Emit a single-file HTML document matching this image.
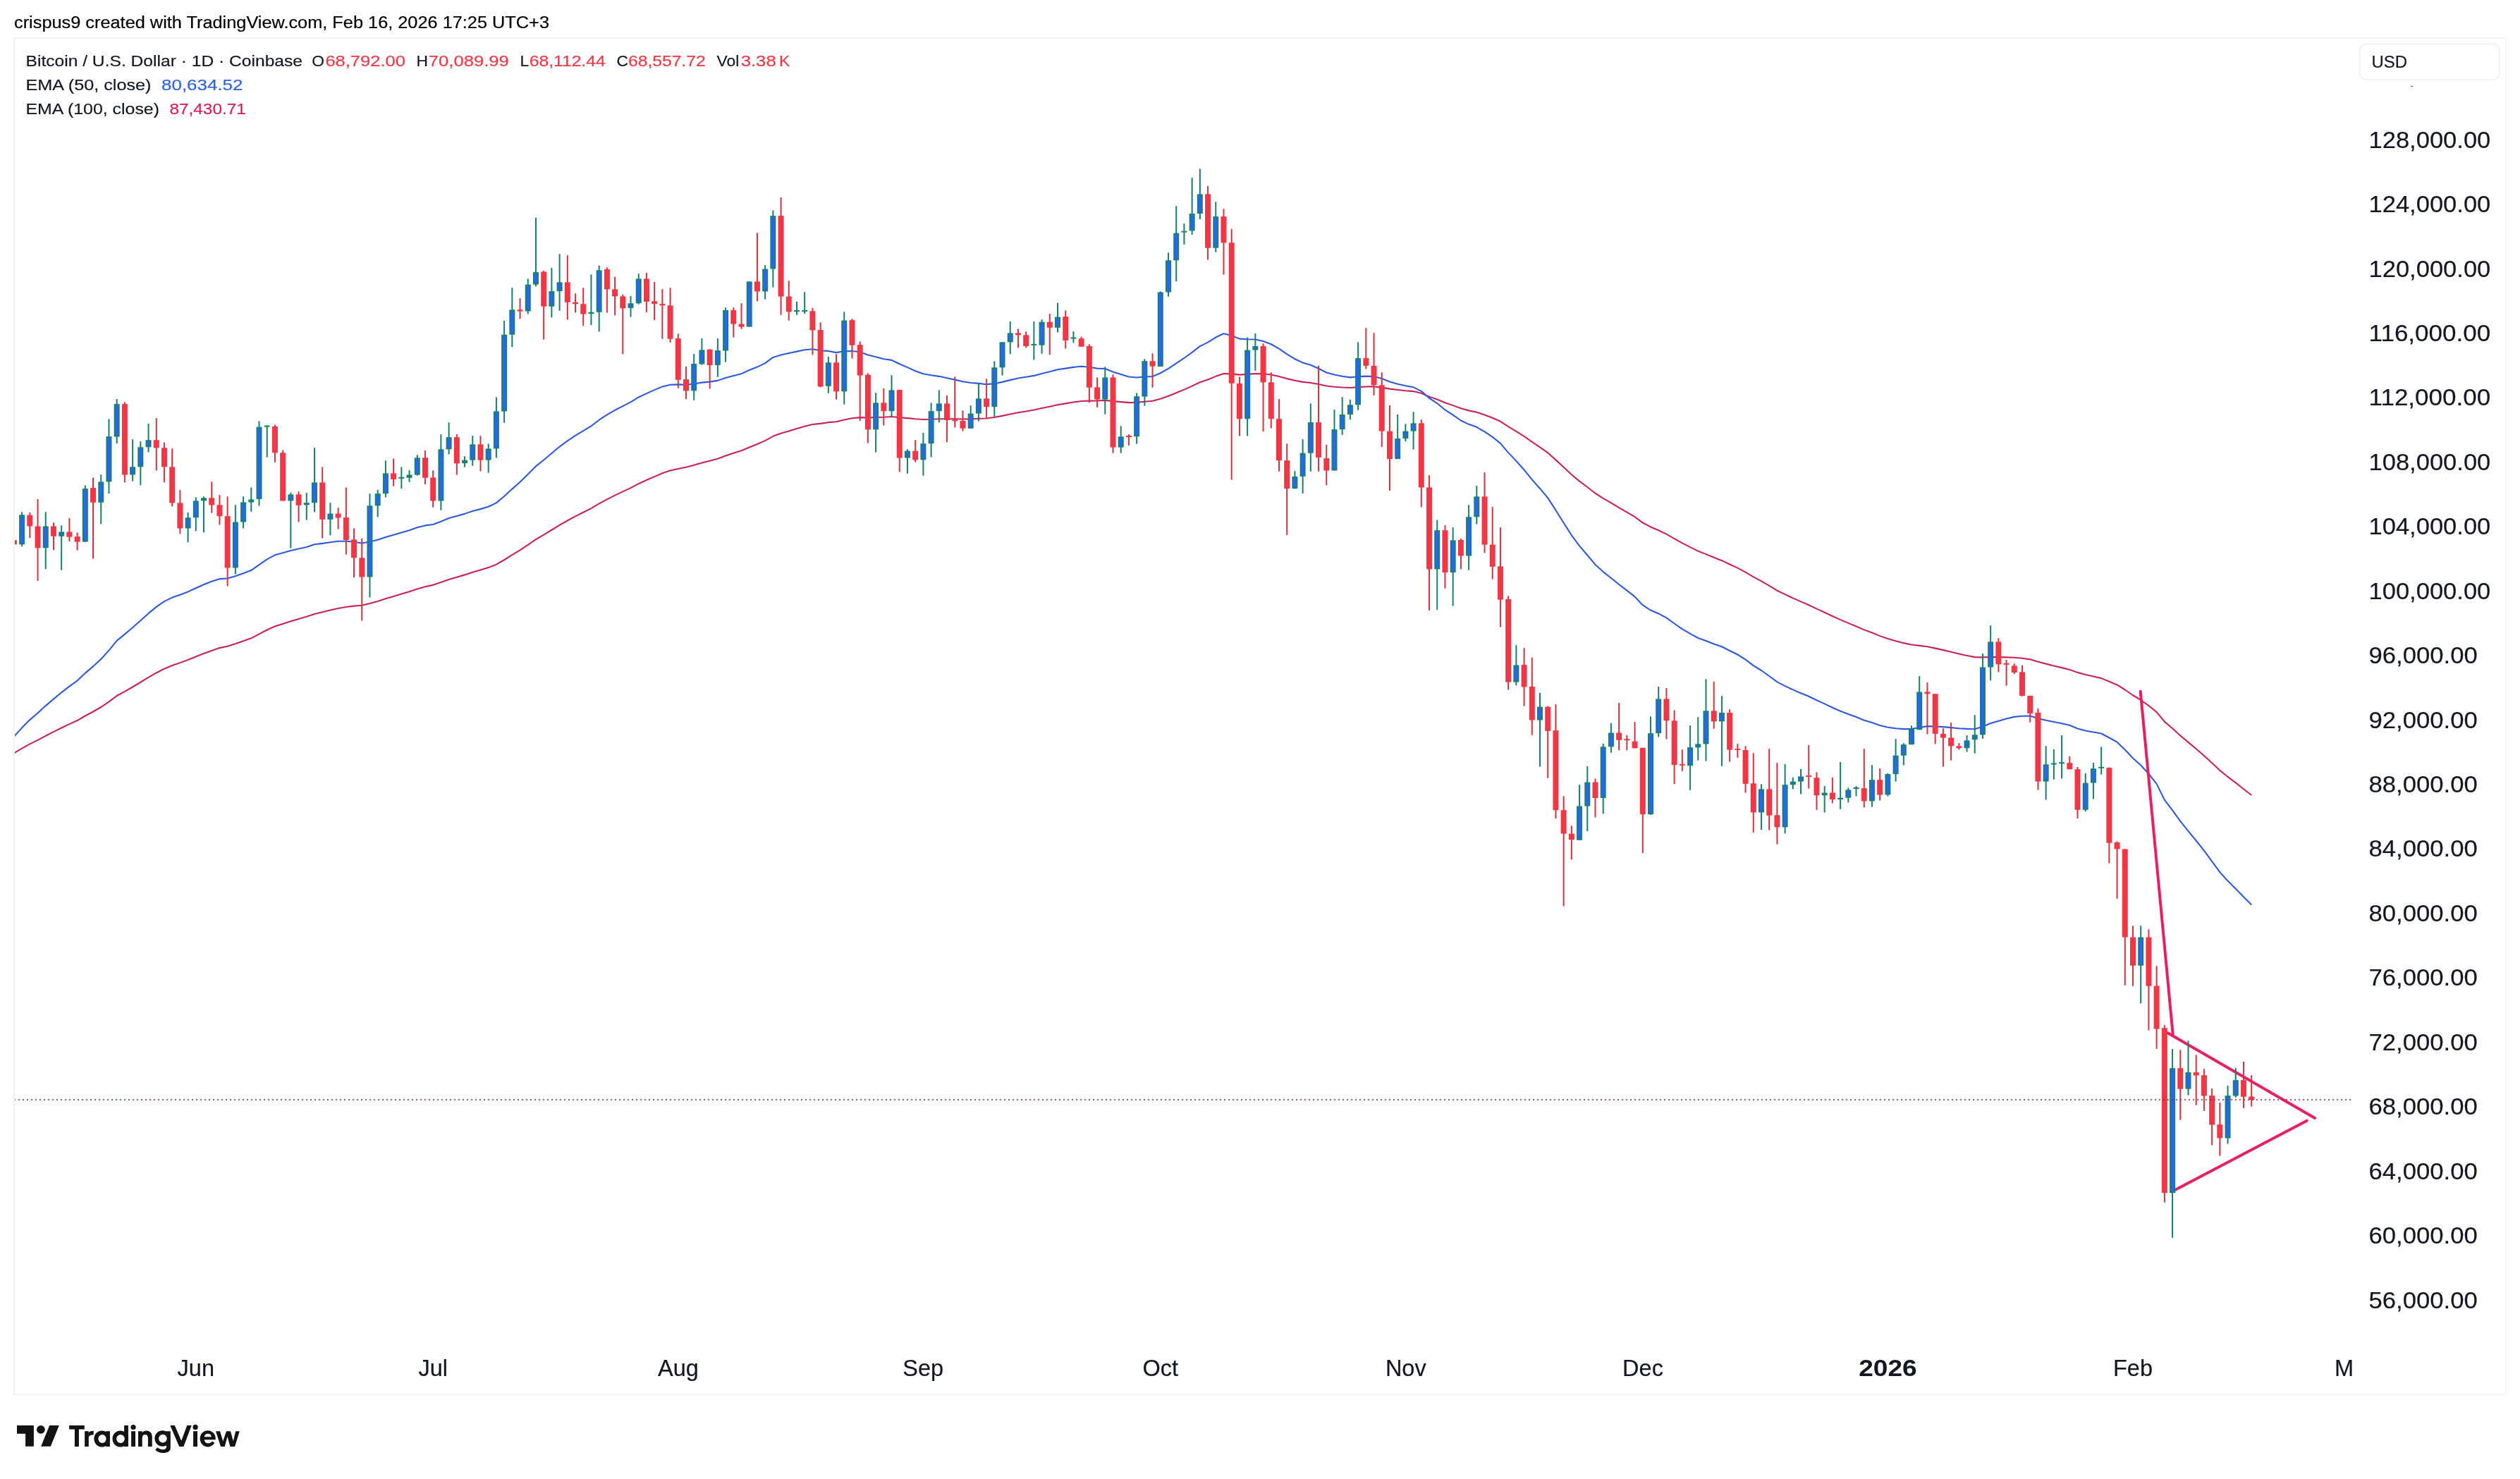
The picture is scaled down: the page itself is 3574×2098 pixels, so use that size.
<!DOCTYPE html>
<html><head><meta charset="utf-8"><title>BTCUSD Chart</title>
<style>html,body{margin:0;padding:0;background:#fff;width:3574px;height:2098px;overflow:hidden}</style>
</head><body>
<svg width="3574" height="2098" viewBox="0 0 3574 2098" style="position:absolute;left:0;top:0;font-family:'Liberation Sans', sans-serif;will-change:transform">
<defs><clipPath id="plotclip"><rect x="21" y="55" width="3317" height="1922"/></clipPath></defs>
<rect x="20" y="54" width="3534" height="1924" fill="none" stroke="#F3F3F3" stroke-width="2"/>
<g clip-path="url(#plotclip)">
<polyline points="19.90,1068.30 31.11,1061.59 42.33,1055.34 53.54,1049.82 64.75,1043.80 75.97,1038.18 87.18,1032.55 98.39,1027.17 109.61,1022.04 120.82,1015.51 132.03,1009.50 143.24,1003.03 154.46,995.41 165.67,987.04 176.88,980.81 188.10,974.49 199.31,967.74 210.52,960.93 221.74,954.46 232.95,948.66 244.16,943.99 255.37,940.13 266.59,936.04 277.80,931.55 289.01,927.08 300.23,922.90 311.44,919.11 322.65,916.84 333.87,913.34 345.08,909.35 356.29,905.36 367.50,899.41 378.72,893.54 389.93,888.55 401.14,885.01 412.36,881.36 423.57,878.09 434.78,874.81 446.00,871.02 457.21,868.35 468.42,865.57 479.63,862.96 490.85,861.03 502.06,859.64 513.27,858.81 524.49,855.99 535.70,852.89 546.91,849.28 558.12,845.92 569.34,842.56 580.55,839.20 591.76,835.43 602.98,832.29 614.19,829.86 625.40,826.04 636.62,821.95 647.83,818.68 659.04,815.38 670.25,811.70 681.47,808.53 692.68,805.11 703.89,800.71 715.11,794.24 726.32,787.20 737.53,780.34 748.75,772.86 759.96,765.19 771.17,758.63 782.38,751.77 793.60,744.80 804.81,738.53 816.02,732.43 827.24,726.74 838.45,721.10 849.66,714.40 860.88,708.36 872.09,702.65 883.30,697.38 894.51,692.08 905.73,686.19 916.94,681.06 928.15,676.10 939.37,671.27 950.58,667.49 961.79,664.93 973.01,662.72 984.22,659.80 995.43,656.55 1006.64,653.80 1017.86,650.68 1029.07,646.49 1040.28,642.78 1051.50,639.22 1062.71,634.45 1073.92,630.06 1085.14,625.13 1096.35,618.80 1107.56,614.86 1118.77,611.43 1129.99,608.02 1141.20,604.69 1152.41,601.98 1163.63,600.90 1174.84,599.17 1186.05,598.29 1197.27,595.43 1208.48,593.32 1219.69,592.11 1230.90,592.43 1242.12,592.00 1253.33,591.81 1264.54,591.04 1275.76,592.18 1286.97,593.11 1298.18,594.27 1309.40,594.95 1320.61,594.70 1331.82,594.25 1343.03,594.27 1354.25,594.31 1365.46,594.56 1376.67,594.39 1387.89,593.80 1399.10,593.46 1410.31,592.01 1421.53,589.89 1432.74,587.55 1443.95,585.31 1455.16,583.43 1466.38,581.53 1477.59,579.04 1488.80,576.77 1500.02,574.23 1511.23,572.41 1522.44,570.55 1533.66,568.97 1544.87,568.58 1556.08,568.52 1567.29,567.85 1578.51,569.16 1589.72,570.14 1600.93,571.10 1612.15,570.91 1623.36,569.73 1634.57,568.73 1645.79,565.66 1657.00,561.76 1668.21,557.16 1679.42,552.61 1690.64,547.65 1701.85,542.25 1713.06,538.46 1724.28,533.87 1735.49,530.10 1746.70,530.36 1757.92,531.61 1769.13,530.90 1780.34,530.10 1791.55,530.33 1802.77,531.58 1813.98,533.97 1825.19,537.11 1836.41,539.84 1847.62,541.86 1858.83,542.98 1870.05,545.07 1881.26,547.48 1892.47,548.68 1903.68,549.45 1914.90,549.93 1926.11,549.08 1937.32,548.47 1948.54,548.42 1959.75,549.65 1970.96,551.65 1982.18,553.03 1993.39,554.18 2004.60,555.08 2015.81,557.76 2027.03,562.69 2038.24,566.43 2049.45,571.28 2060.67,575.13 2071.88,579.34 2083.09,582.38 2094.31,584.78 2105.52,588.49 2116.73,592.74 2127.94,597.83 2139.16,605.14 2150.37,611.83 2161.58,618.99 2172.80,626.95 2184.01,634.38 2195.22,642.33 2206.44,652.36 2217.65,662.84 2228.86,673.29 2240.07,682.59 2251.29,691.03 2262.50,699.75 2273.71,706.85 2284.93,713.43 2296.14,720.07 2307.35,726.59 2318.57,733.20 2329.78,741.54 2340.99,747.44 2352.20,752.26 2363.42,757.59 2374.63,764.06 2385.84,770.41 2397.06,776.13 2408.27,781.65 2419.48,786.13 2430.70,790.81 2441.91,795.16 2453.12,800.46 2464.34,805.65 2475.55,811.70 2486.76,818.44 2497.97,824.38 2509.19,830.95 2520.40,837.72 2531.61,843.16 2542.83,848.40 2554.04,853.40 2565.25,858.29 2576.47,863.63 2587.68,868.78 2598.89,874.02 2610.10,879.11 2621.32,883.87 2632.53,888.48 2643.74,893.38 2654.96,897.58 2666.17,902.12 2677.38,905.99 2688.59,909.25 2699.81,912.15 2711.02,914.55 2722.23,915.86 2733.45,917.20 2744.66,919.64 2755.87,922.13 2767.09,924.82 2778.30,927.50 2789.51,929.92 2800.72,932.13 2811.94,932.40 2823.15,931.95 2834.36,932.14 2845.58,932.33 2856.79,932.74 2868.00,933.80 2879.22,935.34 2890.43,938.76 2901.64,941.63 2912.86,944.41 2924.07,947.11 2935.28,949.95 2946.49,953.88 2957.71,956.97 2968.92,959.59 2980.13,962.12 2991.35,966.73 3002.56,971.43 3013.77,978.50 3024.99,986.24 3036.20,993.02 3047.41,1001.04 3058.62,1010.10 3069.84,1023.60 3081.05,1033.32 3092.26,1043.43 3103.48,1052.88 3114.69,1062.22 3125.90,1071.96 3137.11,1082.31 3148.33,1092.83 3159.54,1101.95 3170.75,1110.46 3181.97,1119.26 3193.18,1127.98" fill="none" stroke="#C92258" stroke-width="2.1" stroke-linejoin="round"/>
<polyline points="19.90,1044.70 31.11,1032.34 42.33,1021.11 53.54,1011.52 64.75,1001.10 75.97,991.64 87.18,982.31 98.39,973.63 109.61,965.56 120.82,954.85 132.03,945.33 143.24,935.03 154.46,922.62 165.67,908.88 176.88,899.62 188.10,890.29 199.31,880.22 210.52,870.16 221.74,860.92 232.95,853.10 244.16,847.60 255.37,843.72 266.59,839.40 277.80,834.32 289.01,829.27 300.23,824.82 311.44,821.16 322.65,820.52 333.87,817.35 345.08,813.21 356.29,809.08 367.50,801.07 378.72,793.31 389.93,787.36 401.14,784.32 412.36,781.04 423.57,778.49 434.78,775.90 446.00,772.29 457.21,770.87 468.42,769.19 479.63,767.80 490.85,767.70 502.06,768.60 513.27,770.53 524.49,768.41 535.70,765.71 546.91,761.99 558.12,758.75 569.34,755.51 580.55,752.27 591.76,748.20 602.98,745.41 614.19,744.02 625.40,739.81 636.62,735.09 647.83,732.02 659.04,728.88 670.25,724.98 681.47,722.12 692.68,718.73 703.89,713.40 715.11,704.01 726.32,693.60 737.53,683.69 748.75,672.68 759.96,661.41 771.17,652.49 782.38,643.07 793.60,633.53 804.81,625.47 816.02,617.83 827.24,611.04 838.45,604.42 849.66,595.72 860.88,588.42 872.09,581.81 883.30,576.12 894.51,570.37 905.73,563.48 916.94,558.13 928.15,553.12 939.37,548.40 950.58,545.72 961.79,545.42 973.01,545.75 984.22,544.55 995.43,542.64 1006.64,541.64 1017.86,539.87 1029.07,535.92 1040.28,532.90 1051.50,530.16 1062.71,525.00 1073.92,520.60 1085.14,515.12 1096.35,506.89 1107.56,503.48 1118.77,501.06 1129.99,498.64 1141.20,496.33 1152.41,495.21 1163.63,497.26 1174.84,497.91 1186.05,500.13 1197.27,498.31 1208.48,497.95 1219.69,499.28 1230.90,503.57 1242.12,506.20 1253.33,509.19 1264.54,510.90 1275.76,516.31 1286.97,521.12 1298.18,526.24 1309.40,530.25 1320.61,532.30 1331.82,533.84 1343.03,536.25 1354.25,538.61 1365.46,541.29 1376.67,543.04 1387.89,543.89 1399.10,545.17 1410.31,544.20 1421.53,541.87 1432.74,539.11 1443.95,536.58 1455.16,534.77 1466.38,532.91 1477.59,529.90 1488.80,527.31 1500.02,524.24 1511.23,522.59 1522.44,520.85 1533.66,519.68 1544.87,520.83 1556.08,522.60 1567.29,523.07 1578.51,527.42 1589.72,530.99 1600.93,534.43 1612.15,535.49 1623.36,534.55 1634.57,533.94 1645.79,529.22 1657.00,522.93 1668.21,515.36 1679.42,507.98 1690.64,499.91 1701.85,491.08 1713.06,485.59 1724.28,478.56 1735.49,473.27 1746.70,476.01 1757.92,480.62 1769.13,481.22 1780.34,481.57 1791.55,483.93 1802.77,488.22 1813.98,494.67 1825.19,502.42 1836.41,509.19 1847.62,514.40 1858.83,517.69 1870.05,522.81 1881.26,528.46 1892.47,531.59 1903.68,533.78 1914.90,535.34 1926.11,534.24 1937.32,533.61 1948.54,534.08 1959.75,537.10 1970.96,541.54 1982.18,544.67 1993.39,547.27 2004.60,549.33 2015.81,554.87 2027.03,564.75 2038.24,572.07 2049.45,581.46 2060.67,588.68 2071.88,596.49 2083.09,601.83 2094.31,605.82 2105.52,612.34 2116.73,619.82 2127.94,628.84 2139.16,642.10 2150.37,653.89 2161.58,666.44 2172.80,680.34 2184.01,692.95 2195.22,706.41 2206.44,723.75 2217.65,741.71 2228.86,759.31 2240.07,774.35 2251.29,787.47 2262.50,800.95 2273.71,811.06 2284.93,819.99 2296.14,828.97 2307.35,837.60 2318.57,846.35 2329.78,858.43 2340.99,865.53 2352.20,870.44 2363.42,876.37 2374.63,884.52 2385.84,892.37 2397.06,898.92 2408.27,905.03 2419.48,909.05 2430.70,913.51 2441.91,917.31 2453.12,923.01 2464.34,928.50 2475.55,935.66 2486.76,944.14 2497.97,950.98 2509.19,959.02 2520.40,967.40 2531.61,973.09 2542.83,978.38 2554.04,983.18 2565.25,987.78 2576.47,993.27 2587.68,998.39 2598.89,1003.68 2610.10,1008.67 2621.32,1013.02 2632.53,1017.09 2643.74,1021.75 2654.96,1025.03 2666.17,1029.02 2677.38,1031.71 2688.59,1033.25 2699.81,1034.12 2711.02,1034.08 2722.23,1031.99 2733.45,1030.10 2744.66,1030.49 2755.87,1031.09 2767.09,1032.13 2778.30,1033.24 2789.51,1033.89 2800.72,1034.19 2811.94,1030.72 2823.15,1025.97 2834.36,1022.66 2845.58,1019.48 2856.79,1016.89 2868.00,1015.69 2879.22,1015.52 2890.43,1019.14 2901.64,1021.67 2912.86,1024.04 2924.07,1026.27 2935.28,1028.79 2946.49,1033.47 2957.71,1036.47 2968.92,1038.55 2980.13,1040.46 2991.35,1046.52 3002.56,1052.69 3013.77,1063.52 3024.99,1075.50 3036.20,1085.43 3047.41,1097.69 3058.62,1111.85 3069.84,1134.59 3081.05,1149.48 3092.26,1164.96 3103.48,1178.89 3114.69,1192.46 3125.90,1206.63 3137.11,1221.85 3148.33,1237.22 3159.54,1249.62 3170.75,1260.68 3181.97,1272.22 3193.18,1283.49" fill="none" stroke="#2D5ADA" stroke-width="2.1" stroke-linejoin="round"/>
<g stroke="#E91E63" stroke-width="4" stroke-linecap="round" fill="none">
<line x1="3035.7" y1="980.8" x2="3081.7" y2="1467.5"/>
<line x1="3074" y1="1465" x2="3283" y2="1586"/>
<line x1="3084.3" y1="1688.2" x2="3271.7" y2="1589.7"/>
</g>
<rect x="18.90" y="741.8" width="2.0" height="44.7" fill="#D6323F"/><rect x="15.90" y="766.2" width="8.0" height="6.1" fill="#F23645"/><rect x="30.11" y="726.2" width="2.0" height="49.1" fill="#15806B"/><rect x="27.11" y="730.3" width="8.0" height="42.0" fill="#15836E"/><rect x="29.11" y="732.3" width="4.0" height="38.0" fill="#2962FF"/><rect x="41.33" y="727.0" width="2.0" height="36.1" fill="#D6323F"/><rect x="38.33" y="730.7" width="8.0" height="15.8" fill="#F23645"/><rect x="52.54" y="708.0" width="2.0" height="116.0" fill="#D6323F"/><rect x="49.54" y="746.5" width="8.0" height="30.8" fill="#F23645"/><rect x="63.75" y="726.2" width="2.0" height="81.1" fill="#15806B"/><rect x="60.75" y="746.5" width="8.0" height="30.8" fill="#15836E"/><rect x="62.75" y="748.5" width="4.0" height="26.8" fill="#2962FF"/><rect x="74.97" y="741.2" width="2.0" height="39.2" fill="#D6323F"/><rect x="71.97" y="746.5" width="8.0" height="14.2" fill="#F23645"/><rect x="86.18" y="745.3" width="2.0" height="63.5" fill="#15806B"/><rect x="83.18" y="754.4" width="8.0" height="6.3" fill="#15836E"/><rect x="85.18" y="756.4" width="4.0" height="2.3" fill="#2962FF"/><rect x="97.39" y="735.1" width="2.0" height="33.1" fill="#D6323F"/><rect x="94.39" y="754.4" width="8.0" height="7.3" fill="#F23645"/><rect x="108.61" y="755.4" width="2.0" height="25.0" fill="#D6323F"/><rect x="105.61" y="761.1" width="8.0" height="7.5" fill="#F23645"/><rect x="119.82" y="688.5" width="2.0" height="80.1" fill="#15806B"/><rect x="116.82" y="693.1" width="8.0" height="75.5" fill="#15836E"/><rect x="118.82" y="695.1" width="4.0" height="71.5" fill="#2962FF"/><rect x="131.03" y="677.5" width="2.0" height="115.0" fill="#D6323F"/><rect x="128.03" y="692.1" width="8.0" height="20.7" fill="#F23645"/><rect x="142.24" y="673.3" width="2.0" height="70.1" fill="#15806B"/><rect x="139.24" y="683.4" width="8.0" height="29.4" fill="#15836E"/><rect x="141.24" y="685.4" width="4.0" height="25.4" fill="#2962FF"/><rect x="153.46" y="594.4" width="2.0" height="105.8" fill="#15806B"/><rect x="150.46" y="619.1" width="8.0" height="64.3" fill="#15836E"/><rect x="152.46" y="621.1" width="4.0" height="60.3" fill="#2962FF"/><rect x="164.67" y="566.0" width="2.0" height="63.2" fill="#15806B"/><rect x="161.67" y="573.1" width="8.0" height="46.4" fill="#15836E"/><rect x="163.67" y="575.1" width="4.0" height="42.4" fill="#2962FF"/><rect x="175.88" y="570.4" width="2.0" height="114.0" fill="#D6323F"/><rect x="172.88" y="573.1" width="8.0" height="100.4" fill="#F23645"/><rect x="187.10" y="623.2" width="2.0" height="59.4" fill="#15806B"/><rect x="184.10" y="662.3" width="8.0" height="11.2" fill="#15836E"/><rect x="186.10" y="664.3" width="4.0" height="7.2" fill="#2962FF"/><rect x="198.31" y="626.2" width="2.0" height="62.3" fill="#15806B"/><rect x="195.31" y="634.3" width="8.0" height="28.0" fill="#15836E"/><rect x="197.31" y="636.3" width="4.0" height="24.0" fill="#2962FF"/><rect x="209.52" y="600.9" width="2.0" height="40.5" fill="#15806B"/><rect x="206.52" y="624.2" width="8.0" height="10.1" fill="#15836E"/><rect x="208.52" y="626.2" width="4.0" height="6.1" fill="#2962FF"/><rect x="220.74" y="593.1" width="2.0" height="74.3" fill="#D6323F"/><rect x="217.74" y="624.2" width="8.0" height="11.1" fill="#F23645"/><rect x="231.95" y="627.6" width="2.0" height="56.8" fill="#D6323F"/><rect x="228.95" y="635.3" width="8.0" height="27.0" fill="#F23645"/><rect x="243.16" y="636.3" width="2.0" height="82.2" fill="#D6323F"/><rect x="240.16" y="662.3" width="8.0" height="51.1" fill="#F23645"/><rect x="254.37" y="695.2" width="2.0" height="62.2" fill="#D6323F"/><rect x="251.37" y="713.4" width="8.0" height="36.1" fill="#F23645"/><rect x="265.59" y="727.0" width="2.0" height="42.2" fill="#15806B"/><rect x="262.59" y="734.3" width="8.0" height="15.2" fill="#15836E"/><rect x="264.59" y="736.3" width="4.0" height="11.2" fill="#2962FF"/><rect x="276.80" y="705.3" width="2.0" height="48.1" fill="#15806B"/><rect x="273.80" y="710.4" width="8.0" height="23.9" fill="#15836E"/><rect x="275.80" y="712.4" width="4.0" height="19.9" fill="#2962FF"/><rect x="288.01" y="704.3" width="2.0" height="51.1" fill="#15806B"/><rect x="285.01" y="706.3" width="8.0" height="4.1" fill="#15836E"/><rect x="287.01" y="708.3" width="4.0" height="0.1" fill="#2962FF"/><rect x="299.23" y="683.4" width="2.0" height="44.2" fill="#D6323F"/><rect x="296.23" y="706.3" width="8.0" height="10.2" fill="#F23645"/><rect x="310.44" y="702.1" width="2.0" height="42.4" fill="#D6323F"/><rect x="307.44" y="716.3" width="8.0" height="15.9" fill="#F23645"/><rect x="321.65" y="704.3" width="2.0" height="127.2" fill="#D6323F"/><rect x="318.65" y="732.2" width="8.0" height="73.3" fill="#F23645"/><rect x="332.87" y="716.3" width="2.0" height="98.2" fill="#15806B"/><rect x="329.87" y="740.5" width="8.0" height="65.0" fill="#15836E"/><rect x="331.87" y="742.5" width="4.0" height="61.0" fill="#2962FF"/><rect x="344.08" y="704.3" width="2.0" height="45.1" fill="#15806B"/><rect x="341.08" y="712.5" width="8.0" height="28.0" fill="#15836E"/><rect x="343.08" y="714.5" width="4.0" height="24.0" fill="#2962FF"/><rect x="355.29" y="691.5" width="2.0" height="34.3" fill="#15806B"/><rect x="352.29" y="708.5" width="8.0" height="4.0" fill="#15836E"/><rect x="366.50" y="597.3" width="2.0" height="120.2" fill="#15806B"/><rect x="363.50" y="605.6" width="8.0" height="102.4" fill="#15836E"/><rect x="365.50" y="607.6" width="4.0" height="98.4" fill="#2962FF"/><rect x="377.72" y="603.2" width="2.0" height="45.5" fill="#15806B"/><rect x="374.72" y="603.6" width="8.0" height="2.0" fill="#15836E"/><rect x="388.93" y="602.5" width="2.0" height="53.3" fill="#D6323F"/><rect x="385.93" y="604.9" width="8.0" height="37.4" fill="#F23645"/><rect x="400.14" y="638.7" width="2.0" height="71.7" fill="#D6323F"/><rect x="397.14" y="642.3" width="8.0" height="68.1" fill="#F23645"/><rect x="411.36" y="698.6" width="2.0" height="79.0" fill="#15806B"/><rect x="408.36" y="701.4" width="8.0" height="9.0" fill="#15836E"/><rect x="410.36" y="703.4" width="4.0" height="5.0" fill="#2962FF"/><rect x="422.57" y="697.2" width="2.0" height="43.3" fill="#D6323F"/><rect x="419.57" y="701.4" width="8.0" height="15.4" fill="#F23645"/><rect x="433.78" y="699.1" width="2.0" height="38.5" fill="#15806B"/><rect x="430.78" y="713.2" width="8.0" height="3.1" fill="#15836E"/><rect x="445.00" y="635.2" width="2.0" height="91.1" fill="#15806B"/><rect x="442.00" y="684.4" width="8.0" height="28.8" fill="#15836E"/><rect x="444.00" y="686.4" width="4.0" height="24.8" fill="#2962FF"/><rect x="456.21" y="662.4" width="2.0" height="101.2" fill="#D6323F"/><rect x="453.21" y="684.4" width="8.0" height="52.5" fill="#F23645"/><rect x="467.42" y="713.2" width="2.0" height="46.2" fill="#15806B"/><rect x="464.42" y="728.6" width="8.0" height="8.3" fill="#15836E"/><rect x="466.42" y="730.6" width="4.0" height="4.3" fill="#2962FF"/><rect x="478.63" y="720.3" width="2.0" height="30.3" fill="#D6323F"/><rect x="475.63" y="728.6" width="8.0" height="5.9" fill="#F23645"/><rect x="489.85" y="691.5" width="2.0" height="95.1" fill="#D6323F"/><rect x="486.85" y="734.1" width="8.0" height="31.9" fill="#F23645"/><rect x="501.06" y="749.4" width="2.0" height="69.8" fill="#D6323F"/><rect x="498.06" y="765.3" width="8.0" height="26.0" fill="#F23645"/><rect x="512.27" y="763.6" width="2.0" height="116.9" fill="#D6323F"/><rect x="509.27" y="791.3" width="8.0" height="27.2" fill="#F23645"/><rect x="523.49" y="700.2" width="2.0" height="147.2" fill="#15806B"/><rect x="520.49" y="717.3" width="8.0" height="101.2" fill="#15836E"/><rect x="522.49" y="719.3" width="4.0" height="97.2" fill="#2962FF"/><rect x="534.70" y="695.0" width="2.0" height="38.4" fill="#15806B"/><rect x="531.70" y="700.2" width="8.0" height="17.1" fill="#15836E"/><rect x="533.70" y="702.2" width="4.0" height="13.1" fill="#2962FF"/><rect x="545.91" y="653.4" width="2.0" height="52.0" fill="#15806B"/><rect x="542.91" y="671.4" width="8.0" height="28.8" fill="#15836E"/><rect x="544.91" y="673.4" width="4.0" height="24.8" fill="#2962FF"/><rect x="557.12" y="650.6" width="2.0" height="39.0" fill="#D6323F"/><rect x="554.12" y="671.4" width="8.0" height="8.7" fill="#F23645"/><rect x="568.34" y="662.4" width="2.0" height="30.7" fill="#15806B"/><rect x="565.34" y="676.8" width="8.0" height="2.0" fill="#15836E"/><rect x="579.55" y="667.1" width="2.0" height="16.6" fill="#15806B"/><rect x="576.55" y="673.5" width="8.0" height="4.3" fill="#15836E"/><rect x="578.55" y="675.5" width="4.0" height="0.3" fill="#2962FF"/><rect x="590.76" y="645.2" width="2.0" height="29.5" fill="#15806B"/><rect x="587.76" y="649.3" width="8.0" height="24.3" fill="#15836E"/><rect x="589.76" y="651.3" width="4.0" height="20.3" fill="#2962FF"/><rect x="601.98" y="639.1" width="2.0" height="47.8" fill="#D6323F"/><rect x="598.98" y="649.3" width="8.0" height="28.4" fill="#F23645"/><rect x="613.19" y="667.3" width="2.0" height="52.3" fill="#D6323F"/><rect x="610.19" y="677.4" width="8.0" height="33.1" fill="#F23645"/><rect x="624.40" y="616.1" width="2.0" height="107.6" fill="#15806B"/><rect x="621.40" y="637.4" width="8.0" height="73.1" fill="#15836E"/><rect x="623.40" y="639.4" width="4.0" height="69.1" fill="#2962FF"/><rect x="635.62" y="599.2" width="2.0" height="45.3" fill="#15806B"/><rect x="632.62" y="620.2" width="8.0" height="17.2" fill="#15836E"/><rect x="634.62" y="622.2" width="4.0" height="13.2" fill="#2962FF"/><rect x="646.83" y="616.1" width="2.0" height="57.5" fill="#D6323F"/><rect x="643.83" y="620.2" width="8.0" height="37.2" fill="#F23645"/><rect x="658.04" y="647.2" width="2.0" height="15.3" fill="#15806B"/><rect x="655.04" y="652.7" width="8.0" height="4.4" fill="#15836E"/><rect x="657.04" y="654.7" width="4.0" height="0.4" fill="#2962FF"/><rect x="669.25" y="618.2" width="2.0" height="42.6" fill="#15806B"/><rect x="666.25" y="630.3" width="8.0" height="22.4" fill="#15836E"/><rect x="668.25" y="632.3" width="4.0" height="18.4" fill="#2962FF"/><rect x="680.47" y="618.2" width="2.0" height="50.3" fill="#D6323F"/><rect x="677.47" y="630.3" width="8.0" height="22.4" fill="#F23645"/><rect x="691.68" y="629.3" width="2.0" height="41.3" fill="#15806B"/><rect x="688.68" y="636.4" width="8.0" height="16.3" fill="#15836E"/><rect x="690.68" y="638.4" width="4.0" height="12.3" fill="#2962FF"/><rect x="702.89" y="563.4" width="2.0" height="86.1" fill="#15806B"/><rect x="699.89" y="583.4" width="8.0" height="53.0" fill="#15836E"/><rect x="701.89" y="585.4" width="4.0" height="49.0" fill="#2962FF"/><rect x="714.11" y="455.0" width="2.0" height="144.7" fill="#15806B"/><rect x="711.11" y="474.7" width="8.0" height="108.8" fill="#15836E"/><rect x="713.11" y="476.7" width="4.0" height="104.8" fill="#2962FF"/><rect x="725.32" y="408.2" width="2.0" height="84.1" fill="#15806B"/><rect x="722.32" y="439.3" width="8.0" height="35.4" fill="#15836E"/><rect x="724.32" y="441.3" width="4.0" height="31.4" fill="#2962FF"/><rect x="736.53" y="423.1" width="2.0" height="29.2" fill="#D6323F"/><rect x="733.53" y="439.3" width="8.0" height="2.2" fill="#F23645"/><rect x="747.75" y="395.5" width="2.0" height="50.0" fill="#15806B"/><rect x="744.75" y="403.6" width="8.0" height="37.9" fill="#15836E"/><rect x="746.75" y="405.6" width="4.0" height="33.9" fill="#2962FF"/><rect x="758.96" y="308.9" width="2.0" height="97.4" fill="#15806B"/><rect x="755.96" y="386.0" width="8.0" height="17.6" fill="#15836E"/><rect x="757.96" y="388.0" width="4.0" height="13.6" fill="#2962FF"/><rect x="770.17" y="384.1" width="2.0" height="97.4" fill="#D6323F"/><rect x="767.17" y="385.5" width="8.0" height="49.2" fill="#F23645"/><rect x="781.38" y="380.1" width="2.0" height="70.3" fill="#15806B"/><rect x="778.38" y="413.1" width="8.0" height="21.6" fill="#15836E"/><rect x="780.38" y="415.1" width="4.0" height="17.6" fill="#2962FF"/><rect x="792.60" y="360.3" width="2.0" height="80.4" fill="#15806B"/><rect x="789.60" y="400.4" width="8.0" height="12.7" fill="#15836E"/><rect x="791.60" y="402.4" width="4.0" height="8.7" fill="#2962FF"/><rect x="803.81" y="362.2" width="2.0" height="91.4" fill="#D6323F"/><rect x="800.81" y="400.4" width="8.0" height="28.4" fill="#F23645"/><rect x="815.02" y="416.3" width="2.0" height="27.1" fill="#D6323F"/><rect x="812.02" y="428.8" width="8.0" height="2.4" fill="#F23645"/><rect x="826.24" y="408.2" width="2.0" height="54.1" fill="#D6323F"/><rect x="823.24" y="431.2" width="8.0" height="14.3" fill="#F23645"/><rect x="837.45" y="389.3" width="2.0" height="71.9" fill="#15806B"/><rect x="834.45" y="442.8" width="8.0" height="2.2" fill="#15836E"/><rect x="848.66" y="376.6" width="2.0" height="93.8" fill="#15806B"/><rect x="845.66" y="383.3" width="8.0" height="59.5" fill="#15836E"/><rect x="847.66" y="385.3" width="4.0" height="55.5" fill="#2962FF"/><rect x="859.88" y="379.3" width="2.0" height="64.3" fill="#D6323F"/><rect x="856.88" y="382.0" width="8.0" height="28.4" fill="#F23645"/><rect x="871.09" y="392.8" width="2.0" height="54.6" fill="#D6323F"/><rect x="868.09" y="410.4" width="8.0" height="10.0" fill="#F23645"/><rect x="882.30" y="417.7" width="2.0" height="84.6" fill="#D6323F"/><rect x="879.30" y="420.4" width="8.0" height="17.0" fill="#F23645"/><rect x="893.51" y="419.9" width="2.0" height="29.7" fill="#15806B"/><rect x="890.51" y="430.2" width="8.0" height="6.7" fill="#15836E"/><rect x="892.51" y="432.2" width="4.0" height="2.7" fill="#2962FF"/><rect x="904.73" y="388.2" width="2.0" height="43.5" fill="#15806B"/><rect x="901.73" y="395.4" width="8.0" height="34.8" fill="#15836E"/><rect x="903.73" y="397.4" width="4.0" height="30.8" fill="#2962FF"/><rect x="915.94" y="387.1" width="2.0" height="55.8" fill="#D6323F"/><rect x="912.94" y="395.4" width="8.0" height="32.5" fill="#F23645"/><rect x="927.15" y="399.8" width="2.0" height="54.2" fill="#D6323F"/><rect x="924.15" y="427.3" width="8.0" height="3.8" fill="#F23645"/><rect x="938.37" y="410.1" width="2.0" height="70.7" fill="#D6323F"/><rect x="935.37" y="431.1" width="8.0" height="2.2" fill="#F23645"/><rect x="949.58" y="408.3" width="2.0" height="77.6" fill="#D6323F"/><rect x="946.58" y="433.3" width="8.0" height="47.5" fill="#F23645"/><rect x="960.79" y="473.4" width="2.0" height="77.2" fill="#D6323F"/><rect x="957.79" y="480.1" width="8.0" height="58.7" fill="#F23645"/><rect x="972.01" y="519.8" width="2.0" height="46.4" fill="#D6323F"/><rect x="969.01" y="538.1" width="8.0" height="16.3" fill="#F23645"/><rect x="983.22" y="502.0" width="2.0" height="65.8" fill="#15806B"/><rect x="980.22" y="516.0" width="8.0" height="38.4" fill="#15836E"/><rect x="982.22" y="518.0" width="4.0" height="34.4" fill="#2962FF"/><rect x="994.43" y="480.1" width="2.0" height="37.5" fill="#15806B"/><rect x="991.43" y="496.4" width="8.0" height="20.1" fill="#15836E"/><rect x="993.43" y="498.4" width="4.0" height="16.1" fill="#2962FF"/><rect x="1005.64" y="495.3" width="2.0" height="56.2" fill="#D6323F"/><rect x="1002.64" y="495.7" width="8.0" height="22.3" fill="#F23645"/><rect x="1016.86" y="480.1" width="2.0" height="54.7" fill="#15806B"/><rect x="1013.86" y="497.1" width="8.0" height="20.9" fill="#15836E"/><rect x="1015.86" y="499.1" width="4.0" height="16.9" fill="#2962FF"/><rect x="1028.07" y="436.2" width="2.0" height="77.4" fill="#15806B"/><rect x="1025.07" y="440.0" width="8.0" height="57.5" fill="#15836E"/><rect x="1027.07" y="442.0" width="4.0" height="53.5" fill="#2962FF"/><rect x="1039.28" y="436.2" width="2.0" height="42.4" fill="#D6323F"/><rect x="1036.28" y="440.0" width="8.0" height="19.6" fill="#F23645"/><rect x="1050.50" y="430.2" width="2.0" height="36.5" fill="#D6323F"/><rect x="1047.50" y="459.6" width="8.0" height="4.0" fill="#F23645"/><rect x="1061.71" y="398.9" width="2.0" height="64.7" fill="#15806B"/><rect x="1058.71" y="399.4" width="8.0" height="64.2" fill="#15836E"/><rect x="1060.71" y="401.4" width="4.0" height="60.2" fill="#2962FF"/><rect x="1072.92" y="330.2" width="2.0" height="97.1" fill="#D6323F"/><rect x="1069.92" y="399.4" width="8.0" height="14.0" fill="#F23645"/><rect x="1084.14" y="376.0" width="2.0" height="48.6" fill="#15806B"/><rect x="1081.14" y="381.5" width="8.0" height="31.9" fill="#15836E"/><rect x="1083.14" y="383.5" width="4.0" height="27.9" fill="#2962FF"/><rect x="1095.35" y="298.3" width="2.0" height="109.3" fill="#15806B"/><rect x="1092.35" y="306.1" width="8.0" height="75.4" fill="#15836E"/><rect x="1094.35" y="308.1" width="4.0" height="71.4" fill="#2962FF"/><rect x="1106.56" y="280.0" width="2.0" height="166.7" fill="#D6323F"/><rect x="1103.56" y="306.1" width="8.0" height="114.5" fill="#F23645"/><rect x="1117.77" y="398.3" width="2.0" height="56.4" fill="#D6323F"/><rect x="1114.77" y="420.6" width="8.0" height="21.8" fill="#F23645"/><rect x="1128.99" y="427.9" width="2.0" height="18.8" fill="#15806B"/><rect x="1125.99" y="440.0" width="8.0" height="2.0" fill="#15836E"/><rect x="1140.20" y="414.3" width="2.0" height="30.8" fill="#15806B"/><rect x="1137.20" y="440.0" width="8.0" height="2.0" fill="#15836E"/><rect x="1151.41" y="436.9" width="2.0" height="66.6" fill="#D6323F"/><rect x="1148.41" y="441.3" width="8.0" height="27.2" fill="#F23645"/><rect x="1162.63" y="457.4" width="2.0" height="91.9" fill="#D6323F"/><rect x="1159.63" y="468.1" width="8.0" height="80.3" fill="#F23645"/><rect x="1173.84" y="506.0" width="2.0" height="51.8" fill="#15806B"/><rect x="1170.84" y="514.3" width="8.0" height="33.4" fill="#15836E"/><rect x="1172.84" y="516.3" width="4.0" height="29.4" fill="#2962FF"/><rect x="1185.05" y="502.3" width="2.0" height="64.4" fill="#D6323F"/><rect x="1182.05" y="514.3" width="8.0" height="41.0" fill="#F23645"/><rect x="1196.27" y="442.3" width="2.0" height="131.4" fill="#15806B"/><rect x="1193.27" y="454.5" width="8.0" height="100.8" fill="#15836E"/><rect x="1195.27" y="456.5" width="4.0" height="96.8" fill="#2962FF"/><rect x="1207.48" y="452.2" width="2.0" height="56.4" fill="#D6323F"/><rect x="1204.48" y="454.1" width="8.0" height="35.6" fill="#F23645"/><rect x="1218.69" y="484.4" width="2.0" height="112.6" fill="#D6323F"/><rect x="1215.69" y="489.1" width="8.0" height="43.5" fill="#F23645"/><rect x="1229.90" y="529.4" width="2.0" height="99.2" fill="#D6323F"/><rect x="1226.90" y="531.7" width="8.0" height="77.6" fill="#F23645"/><rect x="1241.12" y="557.2" width="2.0" height="84.3" fill="#15806B"/><rect x="1238.12" y="571.4" width="8.0" height="37.9" fill="#15836E"/><rect x="1240.12" y="573.4" width="4.0" height="33.9" fill="#2962FF"/><rect x="1252.33" y="551.0" width="2.0" height="52.6" fill="#D6323F"/><rect x="1249.33" y="571.4" width="8.0" height="11.8" fill="#F23645"/><rect x="1263.54" y="532.2" width="2.0" height="59.1" fill="#15806B"/><rect x="1260.54" y="553.4" width="8.0" height="29.8" fill="#15836E"/><rect x="1262.54" y="555.4" width="4.0" height="25.8" fill="#2962FF"/><rect x="1274.76" y="552.5" width="2.0" height="117.0" fill="#D6323F"/><rect x="1271.76" y="553.1" width="8.0" height="96.5" fill="#F23645"/><rect x="1285.97" y="637.3" width="2.0" height="34.5" fill="#15806B"/><rect x="1282.97" y="639.6" width="8.0" height="10.0" fill="#15836E"/><rect x="1284.97" y="641.6" width="4.0" height="6.0" fill="#2962FF"/><rect x="1297.18" y="624.1" width="2.0" height="31.6" fill="#D6323F"/><rect x="1294.18" y="639.6" width="8.0" height="12.8" fill="#F23645"/><rect x="1308.40" y="614.0" width="2.0" height="60.6" fill="#15806B"/><rect x="1305.40" y="629.2" width="8.0" height="23.2" fill="#15836E"/><rect x="1307.40" y="631.2" width="4.0" height="19.2" fill="#2962FF"/><rect x="1319.61" y="571.4" width="2.0" height="77.1" fill="#15806B"/><rect x="1316.61" y="583.2" width="8.0" height="46.0" fill="#15836E"/><rect x="1318.61" y="585.2" width="4.0" height="42.0" fill="#2962FF"/><rect x="1330.82" y="553.4" width="2.0" height="46.0" fill="#15806B"/><rect x="1327.82" y="572.4" width="8.0" height="10.8" fill="#15836E"/><rect x="1329.82" y="574.4" width="4.0" height="6.8" fill="#2962FF"/><rect x="1342.03" y="561.0" width="2.0" height="66.3" fill="#D6323F"/><rect x="1339.03" y="572.4" width="8.0" height="23.6" fill="#F23645"/><rect x="1353.25" y="534.5" width="2.0" height="71.9" fill="#D6323F"/><rect x="1350.25" y="595.4" width="8.0" height="2.0" fill="#F23645"/><rect x="1364.46" y="582.4" width="2.0" height="29.2" fill="#D6323F"/><rect x="1361.46" y="597.0" width="8.0" height="10.8" fill="#F23645"/><rect x="1375.67" y="575.2" width="2.0" height="32.6" fill="#15806B"/><rect x="1372.67" y="586.6" width="8.0" height="21.2" fill="#15836E"/><rect x="1374.67" y="588.6" width="4.0" height="17.2" fill="#2962FF"/><rect x="1386.89" y="544.9" width="2.0" height="52.7" fill="#15806B"/><rect x="1383.89" y="565.4" width="8.0" height="21.2" fill="#15836E"/><rect x="1385.89" y="567.4" width="4.0" height="17.2" fill="#2962FF"/><rect x="1398.10" y="537.4" width="2.0" height="56.4" fill="#D6323F"/><rect x="1395.10" y="565.4" width="8.0" height="11.7" fill="#F23645"/><rect x="1409.31" y="512.4" width="2.0" height="78.9" fill="#15806B"/><rect x="1406.31" y="521.3" width="8.0" height="55.8" fill="#15836E"/><rect x="1408.31" y="523.3" width="4.0" height="51.8" fill="#2962FF"/><rect x="1420.53" y="485.3" width="2.0" height="47.3" fill="#15806B"/><rect x="1417.53" y="485.3" width="8.0" height="36.0" fill="#15836E"/><rect x="1419.53" y="487.3" width="4.0" height="32.0" fill="#2962FF"/><rect x="1431.74" y="456.0" width="2.0" height="46.3" fill="#15806B"/><rect x="1428.74" y="472.4" width="8.0" height="12.9" fill="#15836E"/><rect x="1430.74" y="474.4" width="4.0" height="8.9" fill="#2962FF"/><rect x="1442.95" y="466.4" width="2.0" height="27.0" fill="#D6323F"/><rect x="1439.95" y="472.4" width="8.0" height="2.9" fill="#F23645"/><rect x="1454.16" y="470.2" width="2.0" height="23.2" fill="#D6323F"/><rect x="1451.16" y="475.3" width="8.0" height="15.7" fill="#F23645"/><rect x="1465.38" y="456.0" width="2.0" height="54.5" fill="#15806B"/><rect x="1462.38" y="487.9" width="8.0" height="2.0" fill="#15836E"/><rect x="1476.59" y="453.2" width="2.0" height="48.6" fill="#15806B"/><rect x="1473.59" y="456.7" width="8.0" height="33.0" fill="#15836E"/><rect x="1475.59" y="458.7" width="4.0" height="29.0" fill="#2962FF"/><rect x="1487.80" y="445.0" width="2.0" height="58.2" fill="#D6323F"/><rect x="1484.80" y="456.7" width="8.0" height="8.1" fill="#F23645"/><rect x="1499.02" y="429.6" width="2.0" height="41.9" fill="#15806B"/><rect x="1496.02" y="449.6" width="8.0" height="15.2" fill="#15836E"/><rect x="1498.02" y="451.6" width="4.0" height="11.2" fill="#2962FF"/><rect x="1510.23" y="440.4" width="2.0" height="54.1" fill="#D6323F"/><rect x="1507.23" y="449.1" width="8.0" height="33.8" fill="#F23645"/><rect x="1521.44" y="470.2" width="2.0" height="16.2" fill="#15806B"/><rect x="1518.44" y="478.5" width="8.0" height="2.0" fill="#15836E"/><rect x="1532.66" y="477.5" width="2.0" height="14.3" fill="#D6323F"/><rect x="1529.66" y="480.2" width="8.0" height="11.6" fill="#F23645"/><rect x="1543.87" y="488.3" width="2.0" height="83.1" fill="#D6323F"/><rect x="1540.87" y="491.0" width="8.0" height="58.7" fill="#F23645"/><rect x="1555.08" y="535.4" width="2.0" height="42.4" fill="#D6323F"/><rect x="1552.08" y="549.4" width="8.0" height="17.1" fill="#F23645"/><rect x="1566.29" y="520.3" width="2.0" height="67.4" fill="#15806B"/><rect x="1563.29" y="535.4" width="8.0" height="31.1" fill="#15836E"/><rect x="1565.29" y="537.4" width="4.0" height="27.1" fill="#2962FF"/><rect x="1577.51" y="531.4" width="2.0" height="111.3" fill="#D6323F"/><rect x="1574.51" y="535.4" width="8.0" height="99.2" fill="#F23645"/><rect x="1588.72" y="604.2" width="2.0" height="38.5" fill="#15806B"/><rect x="1585.72" y="619.3" width="8.0" height="15.3" fill="#15836E"/><rect x="1587.72" y="621.3" width="4.0" height="11.3" fill="#2962FF"/><rect x="1599.93" y="616.1" width="2.0" height="15.8" fill="#D6323F"/><rect x="1596.93" y="618.0" width="8.0" height="2.0" fill="#F23645"/><rect x="1611.15" y="557.5" width="2.0" height="72.1" fill="#15806B"/><rect x="1608.15" y="562.2" width="8.0" height="57.1" fill="#15836E"/><rect x="1610.15" y="564.2" width="4.0" height="53.1" fill="#2962FF"/><rect x="1622.36" y="509.2" width="2.0" height="66.5" fill="#15806B"/><rect x="1619.36" y="512.2" width="8.0" height="50.3" fill="#15836E"/><rect x="1621.36" y="514.2" width="4.0" height="46.3" fill="#2962FF"/><rect x="1633.57" y="501.4" width="2.0" height="48.4" fill="#D6323F"/><rect x="1630.57" y="512.2" width="8.0" height="7.4" fill="#F23645"/><rect x="1644.79" y="413.4" width="2.0" height="106.6" fill="#15806B"/><rect x="1641.79" y="414.5" width="8.0" height="105.5" fill="#15836E"/><rect x="1643.79" y="416.5" width="4.0" height="101.5" fill="#2962FF"/><rect x="1656.00" y="358.5" width="2.0" height="62.2" fill="#15806B"/><rect x="1653.00" y="369.3" width="8.0" height="45.2" fill="#15836E"/><rect x="1655.00" y="371.3" width="4.0" height="41.2" fill="#2962FF"/><rect x="1667.21" y="292.2" width="2.0" height="106.9" fill="#15806B"/><rect x="1664.21" y="330.6" width="8.0" height="38.7" fill="#15836E"/><rect x="1666.21" y="332.6" width="4.0" height="34.7" fill="#2962FF"/><rect x="1678.42" y="317.1" width="2.0" height="29.8" fill="#15806B"/><rect x="1675.42" y="327.7" width="8.0" height="2.0" fill="#15836E"/><rect x="1689.64" y="252.2" width="2.0" height="80.6" fill="#15806B"/><rect x="1686.64" y="303.0" width="8.0" height="24.4" fill="#15836E"/><rect x="1688.64" y="305.0" width="4.0" height="20.4" fill="#2962FF"/><rect x="1700.85" y="239.5" width="2.0" height="71.6" fill="#15806B"/><rect x="1697.85" y="275.4" width="8.0" height="27.6" fill="#15836E"/><rect x="1699.85" y="277.4" width="4.0" height="23.6" fill="#2962FF"/><rect x="1712.06" y="263.8" width="2.0" height="104.7" fill="#D6323F"/><rect x="1709.06" y="275.4" width="8.0" height="76.3" fill="#F23645"/><rect x="1723.28" y="286.3" width="2.0" height="71.4" fill="#15806B"/><rect x="1720.28" y="307.1" width="8.0" height="44.6" fill="#15836E"/><rect x="1722.28" y="309.1" width="4.0" height="40.6" fill="#2962FF"/><rect x="1734.49" y="296.3" width="2.0" height="93.3" fill="#D6323F"/><rect x="1731.49" y="307.1" width="8.0" height="37.3" fill="#F23645"/><rect x="1745.70" y="324.7" width="2.0" height="355.9" fill="#D6323F"/><rect x="1742.70" y="344.2" width="8.0" height="199.6" fill="#F23645"/><rect x="1756.92" y="534.5" width="2.0" height="83.9" fill="#D6323F"/><rect x="1753.92" y="543.8" width="8.0" height="50.4" fill="#F23645"/><rect x="1768.13" y="478.5" width="2.0" height="139.9" fill="#15806B"/><rect x="1765.13" y="496.6" width="8.0" height="97.6" fill="#15836E"/><rect x="1767.13" y="498.6" width="4.0" height="93.6" fill="#2962FF"/><rect x="1779.34" y="472.9" width="2.0" height="52.9" fill="#15806B"/><rect x="1776.34" y="491.0" width="8.0" height="5.6" fill="#15836E"/><rect x="1778.34" y="493.0" width="4.0" height="1.6" fill="#2962FF"/><rect x="1790.55" y="487.2" width="2.0" height="125.0" fill="#D6323F"/><rect x="1787.55" y="491.0" width="8.0" height="51.3" fill="#F23645"/><rect x="1801.77" y="528.3" width="2.0" height="79.2" fill="#D6323F"/><rect x="1798.77" y="542.3" width="8.0" height="51.9" fill="#F23645"/><rect x="1812.98" y="566.2" width="2.0" height="102.6" fill="#D6323F"/><rect x="1809.98" y="594.2" width="8.0" height="59.0" fill="#F23645"/><rect x="1824.19" y="629.3" width="2.0" height="129.6" fill="#D6323F"/><rect x="1821.19" y="653.2" width="8.0" height="39.8" fill="#F23645"/><rect x="1835.41" y="668.2" width="2.0" height="25.4" fill="#15806B"/><rect x="1832.41" y="675.9" width="8.0" height="17.1" fill="#15836E"/><rect x="1834.41" y="677.9" width="4.0" height="13.1" fill="#2962FF"/><rect x="1846.62" y="623.1" width="2.0" height="76.8" fill="#15806B"/><rect x="1843.62" y="642.7" width="8.0" height="33.2" fill="#15836E"/><rect x="1845.62" y="644.7" width="4.0" height="29.2" fill="#2962FF"/><rect x="1857.83" y="572.4" width="2.0" height="96.4" fill="#15806B"/><rect x="1854.83" y="599.1" width="8.0" height="43.6" fill="#15836E"/><rect x="1856.83" y="601.1" width="4.0" height="39.6" fill="#2962FF"/><rect x="1869.05" y="518.9" width="2.0" height="149.9" fill="#D6323F"/><rect x="1866.05" y="599.1" width="8.0" height="49.8" fill="#F23645"/><rect x="1880.26" y="630.8" width="2.0" height="57.6" fill="#D6323F"/><rect x="1877.26" y="650.1" width="8.0" height="17.4" fill="#F23645"/><rect x="1891.47" y="581.1" width="2.0" height="86.4" fill="#15806B"/><rect x="1888.47" y="609.1" width="8.0" height="58.4" fill="#15836E"/><rect x="1890.47" y="611.1" width="4.0" height="54.4" fill="#2962FF"/><rect x="1902.68" y="563.1" width="2.0" height="53.8" fill="#15806B"/><rect x="1899.68" y="588.0" width="8.0" height="21.1" fill="#15836E"/><rect x="1901.68" y="590.0" width="4.0" height="17.1" fill="#2962FF"/><rect x="1913.90" y="567.1" width="2.0" height="28.0" fill="#15806B"/><rect x="1910.90" y="574.3" width="8.0" height="13.7" fill="#15836E"/><rect x="1912.90" y="576.3" width="4.0" height="9.7" fill="#2962FF"/><rect x="1925.11" y="485.4" width="2.0" height="96.3" fill="#15806B"/><rect x="1922.11" y="508.1" width="8.0" height="66.2" fill="#15836E"/><rect x="1924.11" y="510.1" width="4.0" height="62.2" fill="#2962FF"/><rect x="1936.32" y="465.2" width="2.0" height="58.4" fill="#D6323F"/><rect x="1933.32" y="508.1" width="8.0" height="10.8" fill="#F23645"/><rect x="1947.54" y="472.3" width="2.0" height="88.6" fill="#D6323F"/><rect x="1944.54" y="518.9" width="8.0" height="27.4" fill="#F23645"/><rect x="1958.75" y="528.3" width="2.0" height="105.7" fill="#D6323F"/><rect x="1955.75" y="546.3" width="8.0" height="65.3" fill="#F23645"/><rect x="1969.96" y="574.9" width="2.0" height="121.2" fill="#D6323F"/><rect x="1966.96" y="611.6" width="8.0" height="39.5" fill="#F23645"/><rect x="1981.18" y="588.0" width="2.0" height="63.1" fill="#15806B"/><rect x="1978.18" y="622.1" width="8.0" height="29.0" fill="#15836E"/><rect x="1980.18" y="624.1" width="4.0" height="25.0" fill="#2962FF"/><rect x="1992.39" y="601.3" width="2.0" height="24.9" fill="#15806B"/><rect x="1989.39" y="611.6" width="8.0" height="10.5" fill="#15836E"/><rect x="1991.39" y="613.6" width="4.0" height="6.5" fill="#2962FF"/><rect x="2003.60" y="584.2" width="2.0" height="53.5" fill="#15806B"/><rect x="2000.60" y="600.4" width="8.0" height="11.2" fill="#15836E"/><rect x="2002.60" y="602.4" width="4.0" height="7.2" fill="#2962FF"/><rect x="2014.81" y="595.1" width="2.0" height="124.3" fill="#D6323F"/><rect x="2011.81" y="600.4" width="8.0" height="91.1" fill="#F23645"/><rect x="2026.03" y="674.1" width="2.0" height="191.8" fill="#D6323F"/><rect x="2023.03" y="691.4" width="8.0" height="116.0" fill="#F23645"/><rect x="2037.24" y="737.6" width="2.0" height="127.3" fill="#15806B"/><rect x="2034.24" y="752.2" width="8.0" height="55.2" fill="#15836E"/><rect x="2036.24" y="754.2" width="4.0" height="51.2" fill="#2962FF"/><rect x="2048.45" y="745.1" width="2.0" height="89.5" fill="#D6323F"/><rect x="2045.45" y="752.2" width="8.0" height="59.9" fill="#F23645"/><rect x="2059.67" y="748.2" width="2.0" height="111.3" fill="#15806B"/><rect x="2056.67" y="766.4" width="8.0" height="45.7" fill="#15836E"/><rect x="2058.67" y="768.4" width="4.0" height="41.7" fill="#2962FF"/><rect x="2070.88" y="764.1" width="2.0" height="43.3" fill="#D6323F"/><rect x="2067.88" y="766.0" width="8.0" height="22.5" fill="#F23645"/><rect x="2082.09" y="716.3" width="2.0" height="92.3" fill="#15806B"/><rect x="2079.09" y="733.3" width="8.0" height="55.2" fill="#15836E"/><rect x="2081.09" y="735.3" width="4.0" height="51.2" fill="#2962FF"/><rect x="2093.31" y="689.1" width="2.0" height="54.4" fill="#15806B"/><rect x="2090.31" y="704.4" width="8.0" height="28.9" fill="#15836E"/><rect x="2092.31" y="706.4" width="4.0" height="24.9" fill="#2962FF"/><rect x="2104.52" y="670.1" width="2.0" height="114.3" fill="#D6323F"/><rect x="2101.52" y="704.4" width="8.0" height="68.2" fill="#F23645"/><rect x="2115.73" y="719.1" width="2.0" height="102.5" fill="#D6323F"/><rect x="2112.73" y="772.6" width="8.0" height="31.2" fill="#F23645"/><rect x="2126.94" y="748.2" width="2.0" height="141.3" fill="#D6323F"/><rect x="2123.94" y="803.4" width="8.0" height="47.3" fill="#F23645"/><rect x="2138.16" y="845.3" width="2.0" height="133.2" fill="#D6323F"/><rect x="2135.16" y="850.0" width="8.0" height="117.6" fill="#F23645"/><rect x="2149.37" y="915.1" width="2.0" height="57.3" fill="#15806B"/><rect x="2146.37" y="943.5" width="8.0" height="24.1" fill="#15836E"/><rect x="2148.37" y="945.5" width="4.0" height="20.1" fill="#2962FF"/><rect x="2160.58" y="919.2" width="2.0" height="82.5" fill="#D6323F"/><rect x="2157.58" y="943.1" width="8.0" height="31.4" fill="#F23645"/><rect x="2171.80" y="932.8" width="2.0" height="110.0" fill="#D6323F"/><rect x="2168.80" y="974.0" width="8.0" height="47.5" fill="#F23645"/><rect x="2183.01" y="982.9" width="2.0" height="104.6" fill="#15806B"/><rect x="2180.01" y="1002.7" width="8.0" height="18.8" fill="#15836E"/><rect x="2182.01" y="1004.7" width="4.0" height="14.8" fill="#2962FF"/><rect x="2194.22" y="1001.7" width="2.0" height="102.0" fill="#D6323F"/><rect x="2191.22" y="1002.7" width="8.0" height="34.2" fill="#F23645"/><rect x="2205.44" y="999.1" width="2.0" height="161.9" fill="#D6323F"/><rect x="2202.44" y="1036.1" width="8.0" height="113.1" fill="#F23645"/><rect x="2216.65" y="1129.4" width="2.0" height="156.0" fill="#D6323F"/><rect x="2213.65" y="1149.2" width="8.0" height="33.4" fill="#F23645"/><rect x="2227.86" y="1171.3" width="2.0" height="48.0" fill="#D6323F"/><rect x="2224.86" y="1182.6" width="8.0" height="8.5" fill="#F23645"/><rect x="2239.07" y="1113.2" width="2.0" height="78.6" fill="#15806B"/><rect x="2236.07" y="1143.5" width="8.0" height="48.3" fill="#15836E"/><rect x="2238.07" y="1145.5" width="4.0" height="44.3" fill="#2962FF"/><rect x="2250.29" y="1087.0" width="2.0" height="92.0" fill="#15806B"/><rect x="2247.29" y="1109.6" width="8.0" height="33.9" fill="#15836E"/><rect x="2249.29" y="1111.6" width="4.0" height="29.9" fill="#2962FF"/><rect x="2261.50" y="1104.5" width="2.0" height="55.0" fill="#D6323F"/><rect x="2258.50" y="1109.6" width="8.0" height="22.4" fill="#F23645"/><rect x="2272.71" y="1054.9" width="2.0" height="99.4" fill="#15806B"/><rect x="2269.71" y="1059.3" width="8.0" height="72.7" fill="#15836E"/><rect x="2271.71" y="1061.3" width="4.0" height="68.7" fill="#2962FF"/><rect x="2283.93" y="1025.9" width="2.0" height="41.8" fill="#15806B"/><rect x="2280.93" y="1039.5" width="8.0" height="19.8" fill="#15836E"/><rect x="2282.93" y="1041.5" width="4.0" height="15.8" fill="#2962FF"/><rect x="2295.14" y="997.1" width="2.0" height="67.3" fill="#D6323F"/><rect x="2292.14" y="1039.5" width="8.0" height="10.3" fill="#F23645"/><rect x="2306.35" y="1042.8" width="2.0" height="21.6" fill="#D6323F"/><rect x="2303.35" y="1048.2" width="8.0" height="2.0" fill="#F23645"/><rect x="2317.57" y="1024.1" width="2.0" height="37.2" fill="#D6323F"/><rect x="2314.57" y="1051.6" width="8.0" height="9.7" fill="#F23645"/><rect x="2328.78" y="1060.8" width="2.0" height="149.5" fill="#D6323F"/><rect x="2325.78" y="1060.8" width="8.0" height="94.3" fill="#F23645"/><rect x="2339.99" y="1016.4" width="2.0" height="139.5" fill="#15806B"/><rect x="2336.99" y="1040.2" width="8.0" height="114.9" fill="#15836E"/><rect x="2338.99" y="1042.2" width="4.0" height="110.9" fill="#2962FF"/><rect x="2351.20" y="974.0" width="2.0" height="71.4" fill="#15806B"/><rect x="2348.20" y="991.4" width="8.0" height="48.8" fill="#15836E"/><rect x="2350.20" y="993.4" width="4.0" height="44.8" fill="#2962FF"/><rect x="2362.42" y="976.0" width="2.0" height="72.5" fill="#D6323F"/><rect x="2359.42" y="991.4" width="8.0" height="30.9" fill="#F23645"/><rect x="2373.63" y="1007.4" width="2.0" height="104.8" fill="#D6323F"/><rect x="2370.63" y="1022.3" width="8.0" height="62.7" fill="#F23645"/><rect x="2384.84" y="1063.2" width="2.0" height="30.7" fill="#D6323F"/><rect x="2381.84" y="1083.8" width="8.0" height="2.0" fill="#F23645"/><rect x="2396.06" y="1029.1" width="2.0" height="91.6" fill="#15806B"/><rect x="2393.06" y="1060.2" width="8.0" height="26.1" fill="#15836E"/><rect x="2395.06" y="1062.2" width="4.0" height="22.1" fill="#2962FF"/><rect x="2407.27" y="1017.2" width="2.0" height="61.5" fill="#15806B"/><rect x="2404.27" y="1055.4" width="8.0" height="5.0" fill="#15836E"/><rect x="2406.27" y="1057.4" width="4.0" height="1.0" fill="#2962FF"/><rect x="2418.48" y="963.3" width="2.0" height="116.4" fill="#15806B"/><rect x="2415.48" y="1008.3" width="8.0" height="47.1" fill="#15836E"/><rect x="2417.48" y="1010.3" width="4.0" height="43.1" fill="#2962FF"/><rect x="2429.70" y="967.0" width="2.0" height="66.7" fill="#D6323F"/><rect x="2426.70" y="1008.3" width="8.0" height="15.1" fill="#F23645"/><rect x="2440.91" y="987.3" width="2.0" height="99.4" fill="#15806B"/><rect x="2437.91" y="1011.0" width="8.0" height="12.4" fill="#15836E"/><rect x="2439.91" y="1013.0" width="4.0" height="8.4" fill="#2962FF"/><rect x="2452.12" y="1006.2" width="2.0" height="74.4" fill="#D6323F"/><rect x="2449.12" y="1011.0" width="8.0" height="52.6" fill="#F23645"/><rect x="2463.34" y="1055.1" width="2.0" height="19.8" fill="#D6323F"/><rect x="2460.34" y="1062.1" width="8.0" height="2.0" fill="#F23645"/><rect x="2474.55" y="1058.3" width="2.0" height="66.2" fill="#D6323F"/><rect x="2471.55" y="1064.0" width="8.0" height="47.8" fill="#F23645"/><rect x="2485.76" y="1068.3" width="2.0" height="112.6" fill="#D6323F"/><rect x="2482.76" y="1111.3" width="8.0" height="41.2" fill="#F23645"/><rect x="2496.97" y="1112.4" width="2.0" height="64.7" fill="#15806B"/><rect x="2493.97" y="1119.4" width="8.0" height="33.1" fill="#15836E"/><rect x="2495.97" y="1121.4" width="4.0" height="29.1" fill="#2962FF"/><rect x="2508.19" y="1062.1" width="2.0" height="115.4" fill="#D6323F"/><rect x="2505.19" y="1119.4" width="8.0" height="37.3" fill="#F23645"/><rect x="2519.40" y="1082.1" width="2.0" height="115.5" fill="#D6323F"/><rect x="2516.40" y="1156.3" width="8.0" height="17.1" fill="#F23645"/><rect x="2530.61" y="1084.0" width="2.0" height="98.4" fill="#15806B"/><rect x="2527.61" y="1113.2" width="8.0" height="60.2" fill="#15836E"/><rect x="2529.61" y="1115.2" width="4.0" height="56.2" fill="#2962FF"/><rect x="2541.83" y="1102.9" width="2.0" height="16.5" fill="#15806B"/><rect x="2538.83" y="1108.6" width="8.0" height="4.6" fill="#15836E"/><rect x="2540.83" y="1110.6" width="4.0" height="0.6" fill="#2962FF"/><rect x="2553.04" y="1091.0" width="2.0" height="35.4" fill="#15806B"/><rect x="2550.04" y="1101.4" width="8.0" height="7.2" fill="#15836E"/><rect x="2552.04" y="1103.4" width="4.0" height="3.2" fill="#2962FF"/><rect x="2564.25" y="1056.9" width="2.0" height="61.6" fill="#D6323F"/><rect x="2561.25" y="1100.0" width="8.0" height="2.0" fill="#F23645"/><rect x="2575.47" y="1095.4" width="2.0" height="53.4" fill="#D6323F"/><rect x="2572.47" y="1103.3" width="8.0" height="25.0" fill="#F23645"/><rect x="2586.68" y="1115.1" width="2.0" height="37.4" fill="#15806B"/><rect x="2583.68" y="1124.5" width="8.0" height="3.8" fill="#15836E"/><rect x="2597.89" y="1102.9" width="2.0" height="36.4" fill="#D6323F"/><rect x="2594.89" y="1124.5" width="8.0" height="9.5" fill="#F23645"/><rect x="2609.10" y="1081.0" width="2.0" height="66.8" fill="#15806B"/><rect x="2606.10" y="1131.7" width="8.0" height="2.3" fill="#15836E"/><rect x="2620.32" y="1117.5" width="2.0" height="20.8" fill="#15806B"/><rect x="2617.32" y="1120.4" width="8.0" height="11.3" fill="#15836E"/><rect x="2619.32" y="1122.4" width="4.0" height="7.3" fill="#2962FF"/><rect x="2631.53" y="1115.1" width="2.0" height="14.3" fill="#15806B"/><rect x="2628.53" y="1117.0" width="8.0" height="2.0" fill="#15836E"/><rect x="2642.74" y="1062.1" width="2.0" height="83.2" fill="#D6323F"/><rect x="2639.74" y="1118.1" width="8.0" height="18.3" fill="#F23645"/><rect x="2653.96" y="1085.3" width="2.0" height="59.3" fill="#15806B"/><rect x="2650.96" y="1106.2" width="8.0" height="30.2" fill="#15836E"/><rect x="2652.96" y="1108.2" width="4.0" height="26.2" fill="#2962FF"/><rect x="2665.17" y="1090.1" width="2.0" height="45.4" fill="#D6323F"/><rect x="2662.17" y="1106.2" width="8.0" height="21.4" fill="#F23645"/><rect x="2676.38" y="1096.8" width="2.0" height="32.7" fill="#15806B"/><rect x="2673.38" y="1098.1" width="8.0" height="29.3" fill="#15836E"/><rect x="2675.38" y="1100.1" width="4.0" height="25.3" fill="#2962FF"/><rect x="2687.59" y="1048.2" width="2.0" height="60.4" fill="#15806B"/><rect x="2684.59" y="1071.7" width="8.0" height="26.4" fill="#15836E"/><rect x="2686.59" y="1073.7" width="4.0" height="22.4" fill="#2962FF"/><rect x="2698.81" y="1054.1" width="2.0" height="31.4" fill="#15806B"/><rect x="2695.81" y="1056.2" width="8.0" height="15.5" fill="#15836E"/><rect x="2697.81" y="1058.2" width="4.0" height="11.5" fill="#2962FF"/><rect x="2710.02" y="1029.3" width="2.0" height="26.9" fill="#15806B"/><rect x="2707.02" y="1033.9" width="8.0" height="22.3" fill="#15836E"/><rect x="2709.02" y="1035.9" width="4.0" height="18.3" fill="#2962FF"/><rect x="2721.23" y="959.1" width="2.0" height="76.1" fill="#15806B"/><rect x="2718.23" y="981.5" width="8.0" height="53.7" fill="#15836E"/><rect x="2720.23" y="983.5" width="4.0" height="49.7" fill="#2962FF"/><rect x="2732.45" y="968.1" width="2.0" height="73.4" fill="#D6323F"/><rect x="2729.45" y="981.5" width="8.0" height="2.8" fill="#F23645"/><rect x="2743.66" y="984.3" width="2.0" height="71.2" fill="#D6323F"/><rect x="2740.66" y="984.3" width="8.0" height="56.6" fill="#F23645"/><rect x="2754.87" y="1033.1" width="2.0" height="54.5" fill="#D6323F"/><rect x="2751.87" y="1040.9" width="8.0" height="5.6" fill="#F23645"/><rect x="2766.09" y="1025.1" width="2.0" height="53.5" fill="#D6323F"/><rect x="2763.09" y="1046.5" width="8.0" height="11.8" fill="#F23645"/><rect x="2777.30" y="1054.1" width="2.0" height="9.2" fill="#D6323F"/><rect x="2774.30" y="1058.3" width="8.0" height="2.9" fill="#F23645"/><rect x="2788.51" y="1043.0" width="2.0" height="23.6" fill="#15806B"/><rect x="2785.51" y="1050.3" width="8.0" height="10.9" fill="#15836E"/><rect x="2787.51" y="1052.3" width="4.0" height="6.9" fill="#2962FF"/><rect x="2799.72" y="1014.2" width="2.0" height="54.5" fill="#15806B"/><rect x="2796.72" y="1042.3" width="8.0" height="6.9" fill="#15836E"/><rect x="2798.72" y="1044.3" width="4.0" height="2.9" fill="#2962FF"/><rect x="2810.94" y="927.0" width="2.0" height="120.8" fill="#15806B"/><rect x="2807.94" y="946.5" width="8.0" height="95.8" fill="#15836E"/><rect x="2809.94" y="948.5" width="4.0" height="91.8" fill="#2962FF"/><rect x="2822.15" y="887.2" width="2.0" height="78.2" fill="#15806B"/><rect x="2819.15" y="910.3" width="8.0" height="36.2" fill="#15836E"/><rect x="2821.15" y="912.3" width="4.0" height="32.2" fill="#2962FF"/><rect x="2833.36" y="905.2" width="2.0" height="48.2" fill="#D6323F"/><rect x="2830.36" y="910.3" width="8.0" height="32.0" fill="#F23645"/><rect x="2844.58" y="936.0" width="2.0" height="36.7" fill="#D6323F"/><rect x="2841.58" y="940.8" width="8.0" height="2.0" fill="#F23645"/><rect x="2855.79" y="941.3" width="2.0" height="14.7" fill="#D6323F"/><rect x="2852.79" y="944.4" width="8.0" height="9.5" fill="#F23645"/><rect x="2867.00" y="943.8" width="2.0" height="44.0" fill="#D6323F"/><rect x="2864.00" y="953.4" width="8.0" height="33.6" fill="#F23645"/><rect x="2878.22" y="987.0" width="2.0" height="37.7" fill="#D6323F"/><rect x="2875.22" y="987.0" width="8.0" height="25.1" fill="#F23645"/><rect x="2889.43" y="1005.2" width="2.0" height="115.3" fill="#D6323F"/><rect x="2886.43" y="1010.9" width="8.0" height="97.7" fill="#F23645"/><rect x="2900.64" y="1058.3" width="2.0" height="76.3" fill="#15806B"/><rect x="2897.64" y="1084.3" width="8.0" height="24.3" fill="#15836E"/><rect x="2899.64" y="1086.3" width="4.0" height="20.3" fill="#2962FF"/><rect x="2911.86" y="1062.9" width="2.0" height="42.9" fill="#15806B"/><rect x="2908.86" y="1082.5" width="8.0" height="2.0" fill="#15836E"/><rect x="2923.07" y="1043.0" width="2.0" height="61.4" fill="#15806B"/><rect x="2920.07" y="1081.2" width="8.0" height="2.0" fill="#15836E"/><rect x="2934.28" y="1072.9" width="2.0" height="18.3" fill="#D6323F"/><rect x="2931.28" y="1082.2" width="8.0" height="9.0" fill="#F23645"/><rect x="2945.49" y="1088.0" width="2.0" height="73.0" fill="#D6323F"/><rect x="2942.49" y="1091.2" width="8.0" height="57.6" fill="#F23645"/><rect x="2956.71" y="1096.8" width="2.0" height="54.5" fill="#15806B"/><rect x="2953.71" y="1110.7" width="8.0" height="38.1" fill="#15836E"/><rect x="2955.71" y="1112.7" width="4.0" height="34.1" fill="#2962FF"/><rect x="2967.92" y="1082.1" width="2.0" height="51.4" fill="#15806B"/><rect x="2964.92" y="1090.2" width="8.0" height="20.3" fill="#15836E"/><rect x="2966.92" y="1092.2" width="4.0" height="16.3" fill="#2962FF"/><rect x="2979.13" y="1059.4" width="2.0" height="39.3" fill="#15806B"/><rect x="2976.13" y="1087.8" width="8.0" height="2.0" fill="#15836E"/><rect x="2990.35" y="1088.5" width="2.0" height="136.1" fill="#D6323F"/><rect x="2987.35" y="1089.2" width="8.0" height="106.5" fill="#F23645"/><rect x="3001.56" y="1193.4" width="2.0" height="81.4" fill="#D6323F"/><rect x="2998.56" y="1195.0" width="8.0" height="9.5" fill="#F23645"/><rect x="3012.77" y="1204.5" width="2.0" height="193.2" fill="#D6323F"/><rect x="3009.77" y="1204.5" width="8.0" height="125.0" fill="#F23645"/><rect x="3023.99" y="1313.3" width="2.0" height="85.4" fill="#D6323F"/><rect x="3020.99" y="1329.5" width="8.0" height="40.2" fill="#F23645"/><rect x="3035.20" y="1313.3" width="2.0" height="110.1" fill="#15806B"/><rect x="3032.20" y="1329.5" width="8.0" height="40.2" fill="#15836E"/><rect x="3034.20" y="1331.5" width="4.0" height="36.2" fill="#2962FF"/><rect x="3046.41" y="1318.3" width="2.0" height="143.3" fill="#D6323F"/><rect x="3043.41" y="1329.5" width="8.0" height="69.2" fill="#F23645"/><rect x="3057.62" y="1370.3" width="2.0" height="117.4" fill="#D6323F"/><rect x="3054.62" y="1398.5" width="8.0" height="61.1" fill="#F23645"/><rect x="3068.84" y="1454.1" width="2.0" height="251.6" fill="#D6323F"/><rect x="3065.84" y="1458.2" width="8.0" height="234.0" fill="#F23645"/><rect x="3080.05" y="1488.1" width="2.0" height="267.7" fill="#15806B"/><rect x="3077.05" y="1515.2" width="8.0" height="177.0" fill="#15836E"/><rect x="3079.05" y="1517.2" width="4.0" height="173.0" fill="#2962FF"/><rect x="3091.26" y="1489.2" width="2.0" height="99.5" fill="#D6323F"/><rect x="3088.26" y="1515.2" width="8.0" height="29.5" fill="#F23645"/><rect x="3102.48" y="1476.2" width="2.0" height="77.4" fill="#15806B"/><rect x="3099.48" y="1521.1" width="8.0" height="23.6" fill="#15836E"/><rect x="3101.48" y="1523.1" width="4.0" height="19.6" fill="#2962FF"/><rect x="3113.69" y="1496.3" width="2.0" height="71.4" fill="#D6323F"/><rect x="3110.69" y="1521.1" width="8.0" height="4.4" fill="#F23645"/><rect x="3124.90" y="1516.3" width="2.0" height="59.5" fill="#D6323F"/><rect x="3121.90" y="1525.2" width="8.0" height="29.3" fill="#F23645"/><rect x="3136.11" y="1544.1" width="2.0" height="80.5" fill="#D6323F"/><rect x="3133.11" y="1554.1" width="8.0" height="41.4" fill="#F23645"/><rect x="3147.33" y="1564.2" width="2.0" height="75.3" fill="#D6323F"/><rect x="3144.33" y="1595.1" width="8.0" height="19.4" fill="#F23645"/><rect x="3158.54" y="1540.1" width="2.0" height="82.5" fill="#15806B"/><rect x="3155.54" y="1554.1" width="8.0" height="60.4" fill="#15836E"/><rect x="3157.54" y="1556.1" width="4.0" height="56.4" fill="#2962FF"/><rect x="3169.75" y="1514.9" width="2.0" height="41.7" fill="#15806B"/><rect x="3166.75" y="1532.2" width="8.0" height="22.3" fill="#15836E"/><rect x="3168.75" y="1534.2" width="4.0" height="18.3" fill="#2962FF"/><rect x="3180.97" y="1506.0" width="2.0" height="65.8" fill="#D6323F"/><rect x="3177.97" y="1532.2" width="8.0" height="23.6" fill="#F23645"/><rect x="3192.18" y="1525.2" width="2.0" height="44.6" fill="#D6323F"/><rect x="3189.18" y="1555.5" width="8.0" height="4.8" fill="#F23645"/>
<line x1="20" y1="1560" x2="3334" y2="1560" stroke="#A3293F" stroke-opacity="0.8" stroke-width="2" stroke-dasharray="2 4"/>
</g>
<text x="20.0" y="40.2" font-size="23.5" fill="#000000" stroke="#000000" stroke-width="0.2" font-weight="normal" textLength="759.0" lengthAdjust="spacingAndGlyphs">crispus9 created with TradingView.com, Feb 16, 2026 17:25 UTC+3</text><text x="36.5" y="94.0" font-size="22.8" fill="#131722" stroke="#131722" stroke-width="0.2" font-weight="normal" textLength="392.5" lengthAdjust="spacingAndGlyphs">Bitcoin / U.S. Dollar · 1D · Coinbase</text><text x="442.3" y="94.0" font-size="22.8" fill="#131722" stroke="#131722" stroke-width="0.2" font-weight="normal">O</text><text x="461.4" y="94.0" font-size="22.8" fill="#F23645" stroke="#F23645" stroke-width="0.2" font-weight="normal" textLength="113.5" lengthAdjust="spacingAndGlyphs">68,792.00</text><text x="590.6" y="94.0" font-size="22.8" fill="#131722" stroke="#131722" stroke-width="0.2" font-weight="normal">H</text><text x="607.8" y="94.0" font-size="22.8" fill="#F23645" stroke="#F23645" stroke-width="0.2" font-weight="normal" textLength="114.0" lengthAdjust="spacingAndGlyphs">70,089.99</text><text x="737.5" y="94.0" font-size="22.8" fill="#131722" stroke="#131722" stroke-width="0.2" font-weight="normal">L</text><text x="750.7" y="94.0" font-size="22.8" fill="#F23645" stroke="#F23645" stroke-width="0.2" font-weight="normal" textLength="108.0" lengthAdjust="spacingAndGlyphs">68,112.44</text><text x="874.5" y="94.0" font-size="22.8" fill="#131722" stroke="#131722" stroke-width="0.2" font-weight="normal">C</text><text x="891.1" y="94.0" font-size="22.8" fill="#F23645" stroke="#F23645" stroke-width="0.2" font-weight="normal" textLength="109.5" lengthAdjust="spacingAndGlyphs">68,557.72</text><text x="1016.6" y="94.0" font-size="22.8" fill="#131722" stroke="#131722" stroke-width="0.2" font-weight="normal">Vol</text><text x="1050.7" y="94.0" font-size="22.8" fill="#F23645" stroke="#F23645" stroke-width="0.2" font-weight="normal" textLength="50.0" lengthAdjust="spacingAndGlyphs">3.38</text><text x="1104.9" y="94.0" font-size="22.8" fill="#F23645" stroke="#F23645" stroke-width="0.2" font-weight="normal">K</text><text x="36.5" y="128.1" font-size="22.8" fill="#131722" stroke="#131722" stroke-width="0.2" font-weight="normal" textLength="178.0" lengthAdjust="spacingAndGlyphs">EMA (50, close)</text><text x="229.0" y="128.1" font-size="22.8" fill="#2E62E6" stroke="#2E62E6" stroke-width="0.2" font-weight="normal" textLength="115.5" lengthAdjust="spacingAndGlyphs">80,634.52</text><text x="36.5" y="162.1" font-size="22.8" fill="#131722" stroke="#131722" stroke-width="0.2" font-weight="normal" textLength="189.5" lengthAdjust="spacingAndGlyphs">EMA (100, close)</text><text x="240.4" y="162.1" font-size="22.8" fill="#D81B60" stroke="#D81B60" stroke-width="0.2" font-weight="normal" textLength="108.5" lengthAdjust="spacingAndGlyphs">87,430.71</text><rect x="3347" y="62.5" width="198" height="50.5" rx="9" fill="#fff" stroke="#EEF0F3" stroke-width="1.5"/><text x="3363.5" y="96.0" font-size="23" fill="#131722" stroke="#131722" stroke-width="0.2" font-weight="normal" textLength="50.5" lengthAdjust="spacingAndGlyphs">USD</text><rect x="3419.3" y="121.8" width="2.4" height="1.4" fill="#555"/><text x="3359.5" y="209.6" font-size="32.8" fill="#131722" stroke="#131722" stroke-width="0.2" font-weight="normal" textLength="172.8" lengthAdjust="spacingAndGlyphs">128,000.00</text><text x="3359.5" y="301.0" font-size="32.8" fill="#131722" stroke="#131722" stroke-width="0.2" font-weight="normal" textLength="172.8" lengthAdjust="spacingAndGlyphs">124,000.00</text><text x="3359.5" y="392.5" font-size="32.8" fill="#131722" stroke="#131722" stroke-width="0.2" font-weight="normal" textLength="172.8" lengthAdjust="spacingAndGlyphs">120,000.00</text><text x="3359.5" y="483.9" font-size="32.8" fill="#131722" stroke="#131722" stroke-width="0.2" font-weight="normal" textLength="172.8" lengthAdjust="spacingAndGlyphs">116,000.00</text><text x="3359.5" y="575.4" font-size="32.8" fill="#131722" stroke="#131722" stroke-width="0.2" font-weight="normal" textLength="172.8" lengthAdjust="spacingAndGlyphs">112,000.00</text><text x="3359.5" y="666.8" font-size="32.8" fill="#131722" stroke="#131722" stroke-width="0.2" font-weight="normal" textLength="172.8" lengthAdjust="spacingAndGlyphs">108,000.00</text><text x="3359.5" y="758.2" font-size="32.8" fill="#131722" stroke="#131722" stroke-width="0.2" font-weight="normal" textLength="172.8" lengthAdjust="spacingAndGlyphs">104,000.00</text><text x="3359.5" y="849.7" font-size="32.8" fill="#131722" stroke="#131722" stroke-width="0.2" font-weight="normal" textLength="172.8" lengthAdjust="spacingAndGlyphs">100,000.00</text><text x="3359.5" y="941.1" font-size="32.8" fill="#131722" stroke="#131722" stroke-width="0.2" font-weight="normal" textLength="154.3" lengthAdjust="spacingAndGlyphs">96,000.00</text><text x="3359.5" y="1032.6" font-size="32.8" fill="#131722" stroke="#131722" stroke-width="0.2" font-weight="normal" textLength="154.3" lengthAdjust="spacingAndGlyphs">92,000.00</text><text x="3359.5" y="1124.0" font-size="32.8" fill="#131722" stroke="#131722" stroke-width="0.2" font-weight="normal" textLength="154.3" lengthAdjust="spacingAndGlyphs">88,000.00</text><text x="3359.5" y="1215.4" font-size="32.8" fill="#131722" stroke="#131722" stroke-width="0.2" font-weight="normal" textLength="154.3" lengthAdjust="spacingAndGlyphs">84,000.00</text><text x="3359.5" y="1306.9" font-size="32.8" fill="#131722" stroke="#131722" stroke-width="0.2" font-weight="normal" textLength="154.3" lengthAdjust="spacingAndGlyphs">80,000.00</text><text x="3359.5" y="1398.3" font-size="32.8" fill="#131722" stroke="#131722" stroke-width="0.2" font-weight="normal" textLength="154.3" lengthAdjust="spacingAndGlyphs">76,000.00</text><text x="3359.5" y="1489.8" font-size="32.8" fill="#131722" stroke="#131722" stroke-width="0.2" font-weight="normal" textLength="154.3" lengthAdjust="spacingAndGlyphs">72,000.00</text><text x="3359.5" y="1581.2" font-size="32.8" fill="#131722" stroke="#131722" stroke-width="0.2" font-weight="normal" textLength="154.3" lengthAdjust="spacingAndGlyphs">68,000.00</text><text x="3359.5" y="1672.6" font-size="32.8" fill="#131722" stroke="#131722" stroke-width="0.2" font-weight="normal" textLength="154.3" lengthAdjust="spacingAndGlyphs">64,000.00</text><text x="3359.5" y="1764.1" font-size="32.8" fill="#131722" stroke="#131722" stroke-width="0.2" font-weight="normal" textLength="154.3" lengthAdjust="spacingAndGlyphs">60,000.00</text><text x="3359.5" y="1855.5" font-size="32.8" fill="#131722" stroke="#131722" stroke-width="0.2" font-weight="normal" textLength="154.3" lengthAdjust="spacingAndGlyphs">56,000.00</text><text x="277.8" y="1952.2" font-size="32.5" fill="#131722" stroke="#131722" stroke-width="0.2" font-weight="normal" text-anchor="middle">Jun</text><text x="614.3" y="1952.2" font-size="32.5" fill="#131722" stroke="#131722" stroke-width="0.2" font-weight="normal" text-anchor="middle">Jul</text><text x="961.9" y="1952.2" font-size="32.5" fill="#131722" stroke="#131722" stroke-width="0.2" font-weight="normal" text-anchor="middle">Aug</text><text x="1309.2" y="1952.2" font-size="32.5" fill="#131722" stroke="#131722" stroke-width="0.2" font-weight="normal" text-anchor="middle">Sep</text><text x="1645.7" y="1952.2" font-size="32.5" fill="#131722" stroke="#131722" stroke-width="0.2" font-weight="normal" text-anchor="middle">Oct</text><text x="1993.8" y="1952.2" font-size="32.5" fill="#131722" stroke="#131722" stroke-width="0.2" font-weight="normal" text-anchor="middle">Nov</text><text x="2330.0" y="1952.2" font-size="32.5" fill="#131722" stroke="#131722" stroke-width="0.2" font-weight="normal" text-anchor="middle">Dec</text><text x="2677.5" y="1952.2" font-size="32.8" fill="#131722" font-weight="bold" textLength="82.5" lengthAdjust="spacingAndGlyphs" text-anchor="middle">2026</text><text x="3025.0" y="1952.2" font-size="32.5" fill="#131722" stroke="#131722" stroke-width="0.2" font-weight="normal" text-anchor="middle">Feb</text><text x="3339.0" y="1952.2" font-size="32.5" fill="#131722" stroke="#131722" stroke-width="0.2" font-weight="normal" text-anchor="middle" clip-path="url(#plotclip)">Mar</text>
<g fill="#131313">
<path d="M24 2022.1 H47.9 V2051.8 H36.1 V2033.7 H24 Z"/>
<circle cx="57.9" cy="2027.9" r="5.9"/>
<path d="M70.2 2022.1 H83.8 L71.8 2051.8 H58.1 Z"/>
</g>
<g fill="#131313">
<path d="M98.1 2022 H119.8 V2027.6 H111.9 V2052 H105.9 V2027.6 H98.1 Z"/>
<rect x="120.1" y="2030.2" width="5.7" height="21.8"/>
<path d="M125.6 2032.3 C127.3 2030.3 129.6 2029.6 132.7 2029.7 V2035.3 C129.8 2035.2 127.0 2036.0 125.6 2038.8 Z"/>
<ellipse cx="144.5" cy="2041" rx="11.1" ry="11.6"/>
<rect x="150.1" y="2030.2" width="5.8" height="21.8"/>
<ellipse cx="170.7" cy="2041" rx="11.2" ry="11.6"/>
<rect x="176.1" y="2022" width="5.8" height="30"/>
<rect x="186.1" y="2030.2" width="5.9" height="21.8"/>
<circle cx="189.05" cy="2024.5" r="3.6"/>
<path d="M196 2030.2 H201.7 V2032.3 C203 2030.3 205 2029.4 207.5 2029.4 C212.5 2029.4 215.7 2032.5 215.7 2038.5 V2052 H209.9 V2040 C209.9 2036.8 208.3 2034.9 205.8 2034.9 C203.3 2034.9 201.7 2036.8 201.7 2040 V2052 H196 Z"/>
<ellipse cx="230.5" cy="2040.5" rx="11.1" ry="11.2"/>
<path d="M236 2030.2 H241.8 V2054 C241.8 2058.8 237.5 2061 231.5 2061 C226.5 2061 222.5 2059.3 220.2 2056.5 L223.6 2053.3 C225.3 2055.2 228 2056.3 231.3 2056.3 C234.2 2056.3 236 2054.8 236 2052.5 Z"/>
<path d="M241.3 2022 H247.8 L257.2 2043.8 L265.3 2022 H271.7 L260.4 2052 H254.2 Z"/>
<rect x="274.1" y="2030.2" width="5.9" height="21.8"/>
<circle cx="277.1" cy="2024.4" r="3.6"/>
<ellipse cx="294.7" cy="2040.8" rx="11.1" ry="11.6"/>
<path d="M306 2030.2 H312 L316.3 2044.2 L321 2030.2 H327 L330.8 2044.2 L334.2 2030.2 H339.8 L333.1 2052 H326.4 L322.6 2037.8 L318.7 2052 H313 Z"/>
</g>
<g fill="#ffffff">
<ellipse cx="145" cy="2041" rx="5.6" ry="6.05"/>
<ellipse cx="171" cy="2041" rx="5.8" ry="6.05"/>
<ellipse cx="230.9" cy="2040.6" rx="5.8" ry="5.9"/>
<path d="M289.9 2038.2 C289.9 2035.5 292 2033.8 294.8 2033.8 C297.6 2033.8 299.7 2035.5 299.8 2038.2 Z"/>
<path d="M289.8 2042.3 H307 V2048.3 L300.9 2044.4 C299.6 2046.3 297.6 2047.3 295.1 2047.3 C292.2 2047.3 290 2045.3 289.8 2042.3 Z"/>
</g>
</svg>
</body></html>
